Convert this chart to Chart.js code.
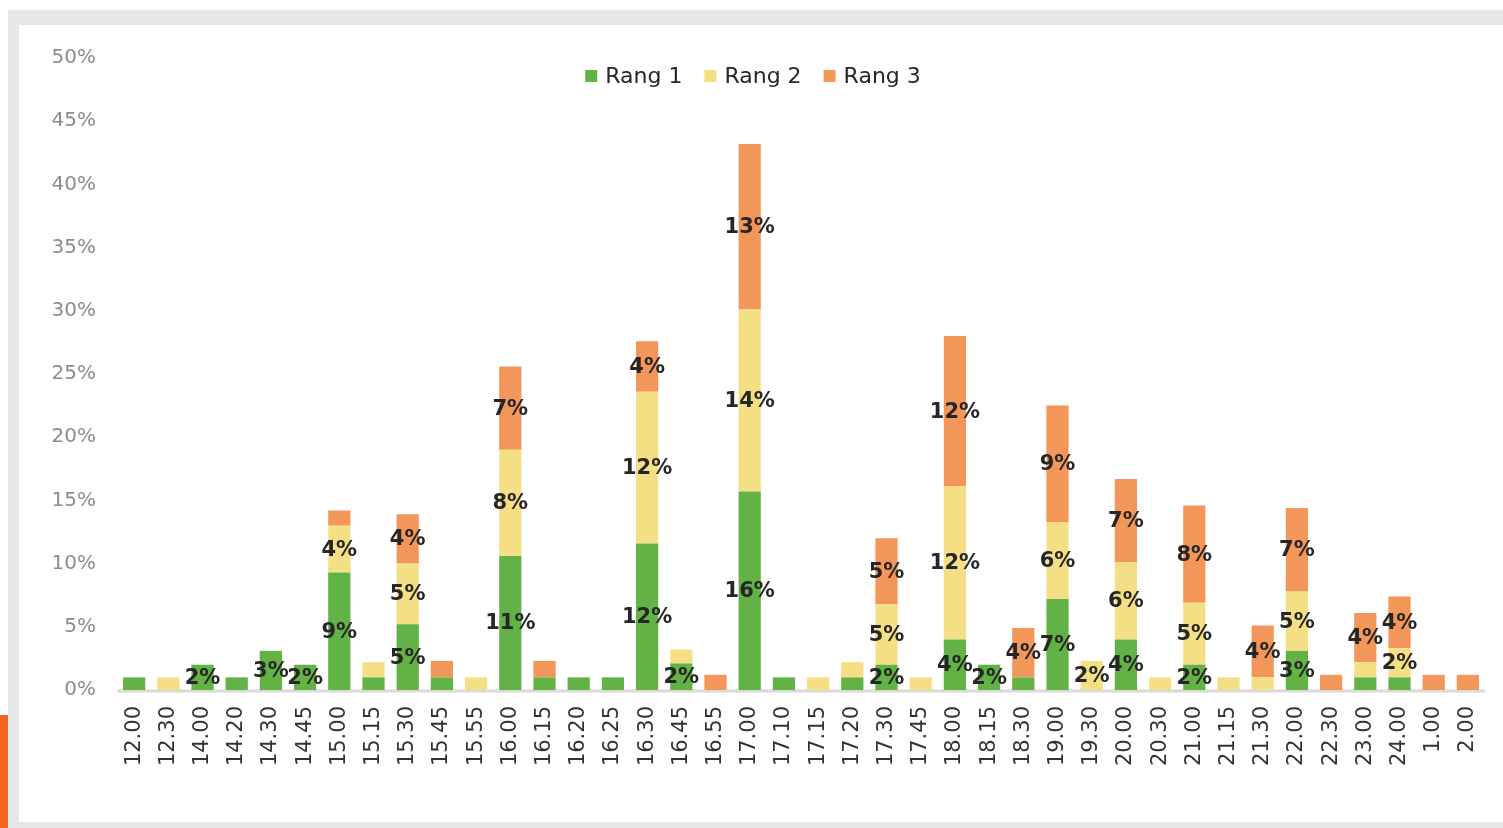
<!DOCTYPE html>
<html>
<head>
<meta charset="utf-8">
<script src="https://cdn.jsdelivr.net/npm/chart.js@4"></script>
<style>
  html, body { margin: 0; padding: 0; background: #fff; }
  body { width: 1503px; height: 828px; position: relative; overflow: hidden; }
  .frame { position: absolute; left: 8px; top: 10px; width: 1495px; height: 818px; background: #e6e7e8; }
  .inner { position: absolute; left: 19px; top: 25px; width: 1484px; height: 797px; background: #fff; }
  .accent { position: absolute; left: 0; top: 715px; width: 8px; height: 113px; background: #f26522; }
</style>
</head>
<body>
<div class="frame"></div>
<div class="accent"></div>
<div class="inner"><canvas id="rangChart"></canvas></div>
<script>
const heures = ['12.00','12.30','14.00','14.20','14.30','14.45','15.00','15.15','15.30','15.45',
  '15.55','16.00','16.15','16.20','16.25','16.30','16.45','16.55','17.00','17.10',
  '17.15','17.20','17.30','17.45','18.00','18.15','18.30','19.00','19.30','20.00',
  '20.30','21.00','21.15','21.30','22.00','22.30','23.00','24.00','1.00','2.00'];
const rang1 = [1,0,2,1,3.1,2,9.3,1,5.2,1, 0,10.6,1,1,1,11.6,2.1,0,15.7,1, 0,1,2,0,4,2,1,7.2,0,4, 0,2,0,0,3.1,0,1,1,0,0];
const rang2 = [0,1,0,0,0,0,3.7,1.2,4.8,0, 1,8.4,0,0,0,12.0,1.1,0,14.4,0, 1,1.2,4.8,1,12.1,0,0,6.1,2.3,6.1, 1,4.9,1,1,4.7,0,1.2,2.3,0,0];
const rang3 = [0,0,0,0,0,0,1.2,0,3.9,1.3, 0,6.6,1.3,0,0,4.0,0,1.2,13.1,0, 0,0,5.2,0,11.9,0,3.9,9.2,0,6.6, 0,7.7,0,4.1,6.6,1.2,3.9,4.1,1.2,1.2];
const yTicks = [0,5,10,15,20,25,30,35,40,45,50];

const couleurs = ['#63b246', '#f4df85', '#f29659'];
const police = '"DejaVu Sans", Verdana, sans-serif';

// ligne de base grise, seulement sous la zone des barres
const ligneBase = {
  id: 'ligneBase',
  beforeDatasetsDraw(chart) {
    const { ctx, chartArea } = chart;
    ctx.save();
    ctx.strokeStyle = '#d9d9d9';
    ctx.lineWidth = 3;
    ctx.beginPath();
    ctx.moveTo(chartArea.left, chartArea.bottom + 1);
    ctx.lineTo(chartArea.right, chartArea.bottom + 1);
    ctx.stroke();
    ctx.restore();
  }
};

// étiquettes au centre de chaque segment
const etiquettes = {
  id: 'etiquettes',
  afterDatasetsDraw(chart) {
    const ctx = chart.ctx;
    ctx.save();
    ctx.font = 'bold 21px ' + police;
    ctx.fillStyle = '#262626';
    ctx.textAlign = 'center';
    ctx.textBaseline = 'middle';
    chart.data.datasets.forEach((ds, di) => {
      const meta = chart.getDatasetMeta(di);
      meta.data.forEach((bar, i) => {
        const v = ds.data[i];
        if (v < 1.5) return;
        const p = bar.getProps(['x', 'y', 'base'], true);
        ctx.fillText(Math.round(v) + '%', p.x, (p.y + p.base) / 2 + 1);
      });
    });
    ctx.restore();
  }
};

// légende posée dans la zone du graphique, en haut au centre
const legende = {
  id: 'legende',
  afterDraw(chart, args, opts) {
    const ctx = chart.ctx;
    ctx.save();
    ctx.font = '22px ' + police;
    ctx.textBaseline = 'middle';
    ctx.textAlign = 'left';
    const items = chart.data.datasets.map(ds => ({ t: ds.label, c: ds.backgroundColor }));
    const box = 12, gap = 8, sep = 22;
    const largeurs = items.map(it => box + gap + ctx.measureText(it.t).width);
    const total = largeurs.reduce((a, b) => a + b, 0) + sep * (items.length - 1);
    let x = opts.centre - total / 2;
    const y = opts.y;
    items.forEach((it, k) => {
      ctx.fillStyle = it.c;
      ctx.fillRect(x, y - box / 2, box, box);
      ctx.fillStyle = '#262626';
      ctx.fillText(it.t, x + box + gap, y + 1);
      x += largeurs[k] + sep;
    });
    ctx.restore();
  }
};

new Chart(document.getElementById('rangChart'), {
  type: 'bar',
  data: {
    labels: heures,
    datasets: [
      { label: 'Rang 1', data: rang1, backgroundColor: couleurs[0] },
      { label: 'Rang 2', data: rang2, backgroundColor: couleurs[1] },
      { label: 'Rang 3', data: rang3, backgroundColor: couleurs[2] }
    ]
  },
  options: {
    responsive: true,
    maintainAspectRatio: false,
    animation: false,
    layout: { padding: { left: 0, right: 18, top: 33, bottom: 0 } },
    datasets: { bar: { barPercentage: 0.65, categoryPercentage: 1.0, borderWidth: 0 } },
    plugins: {
      tooltip: { enabled: false },
      legend: { display: false },
      legende: { centre: 734, y: 51 }
    },
    scales: {
      x: {
        stacked: true,
        grid: { display: false, drawTicks: false },
        border: { display: false },
        ticks: {
          autoSkip: false,
          minRotation: 90,
          maxRotation: 90,
          padding: 16,
          color: '#333333',
          font: { family: police, size: 21 }
        },
        afterFit(scale) {
          scale.height = 132;
          scale.paddingLeft = 0;
          scale.paddingRight = 0;
        }
      },
      y: {
        stacked: true,
        min: 0,
        max: 50,
        grid: { display: false, drawTicks: false },
        border: { display: false },
        afterBuildTicks(scale) { scale.ticks = yTicks.map(v => ({ value: v })); },
        ticks: {
          padding: 21,
          color: '#8c8c8c',
          font: { family: police, size: 20 },
          callback: v => v + '%'
        },
        afterFit(scale) { scale.width = 98; }
      }
    }
  },
  plugins: [ligneBase, etiquettes, legende]
});
</script>
</body>
</html>
